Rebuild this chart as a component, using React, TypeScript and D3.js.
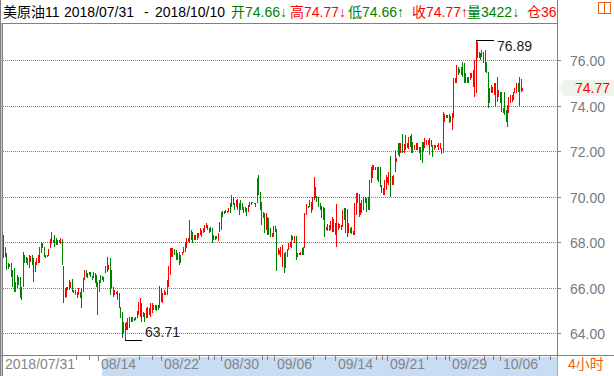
import React from 'react';
import * as d3 from 'd3';

// ---- data (4-hour bars, 美原油11) ----
const opens = [
68.31,67.78,67.52,67.08,66.90,67.08,66.77,66.86,65.80,65.98,
66.46,66.46,65.45,66.02,67.43,67.34,66.99,66.86,67.12,67.43,
67.30,66.68,66.99,67.08,67.08,67.52,67.96,67.78,67.43,67.43,
67.38,67.74,67.91,67.96,68.31,68.18,67.87,67.96,67.91,68.13,
66.95,65.54,65.58,65.89,66.33,65.98,66.37,65.89,65.89,65.80,
65.67,65.80,65.10,65.80,66.33,66.77,66.42,66.68,66.68,66.51,
66.42,66.20,66.55,66.24,65.80,66.55,66.51,66.46,66.64,66.68,
66.77,67.30,66.77,66.02,65.67,65.71,65.85,65.76,65.14,64.92,
64.48,63.71,64.13,64.13,64.22,64.48,64.70,64.66,64.57,64.66,
64.79,64.70,65.32,64.92,64.88,64.66,64.66,64.79,64.70,64.88,
65.23,65.23,65.23,65.23,65.10,65.98,65.32,65.67,65.67,65.67,
66.02,66.55,67.34,67.34,67.69,67.65,67.21,67.56,67.43,67.43,
67.52,67.56,67.74,68.00,67.96,68.09,68.44,68.09,68.09,68.40,
68.18,68.31,68.53,68.40,68.44,68.62,68.75,68.40,68.66,68.62,
68.09,68.26,68.26,68.04,68.44,68.53,69.36,69.36,69.27,69.27,
69.32,69.71,69.54,69.63,69.71,69.54,69.89,69.71,69.85,69.71,
69.54,69.54,69.49,69.32,69.54,69.63,69.76,69.71,69.71,69.71,
70.95,70.20,69.76,69.05,69.27,68.53,69.10,69.05,68.62,68.22,
68.22,68.44,68.57,67.43,67.47,67.34,66.90,67.52,66.86,67.34,
67.65,67.78,67.74,68.26,67.96,68.26,67.52,67.43,67.43,67.74,
67.78,67.74,69.19,69.58,69.54,69.76,69.41,69.85,70.42,70.02,
69.98,69.71,69.05,69.54,69.49,68.53,68.79,68.48,68.53,68.44,
68.44,68.84,67.78,68.53,68.79,68.75,68.66,69.49,69.49,69.45,
68.40,68.62,68.66,68.31,68.31,69.19,69.71,70.11,69.19,69.27,
69.41,69.71,69.93,69.98,69.41,70.59,70.81,71.16,71.30,71.30,
71.30,71.30,70.51,70.37,70.07,70.29,70.59,70.51,71.78,70.51,
70.95,71.08,71.52,72.35,71.74,71.91,72.75,71.91,72.70,72.13,
72.09,72.66,72.75,72.40,72.04,72.04,72.35,72.18,72.18,72.40,
72.00,72.13,72.26,72.26,72.57,72.48,72.26,72.04,72.13,72.18,
72.04,72.09,71.87,71.91,73.27,73.58,73.45,73.63,73.54,72.92,
73.45,74.99,74.99,75.69,75.43,75.34,75.91,75.87,75.43,74.99,
75.25,75.12,75.21,75.56,74.37,74.55,76.79,76.09,76.31,76.13,
76.35,76.44,75.91,75.47,74.11,74.55,74.55,74.46,74.99,74.15,
74.37,74.59,74.59,73.67,74.59,73.80,73.05,73.67,74.11,74.15,
74.24,74.55,74.55,74.99,73.98,75.17,74.66,
];
const highs = [
68.31,67.78,67.52,67.08,67.03,67.08,66.77,66.86,66.24,66.55,
66.46,66.46,66.02,67.56,67.43,67.34,67.30,67.43,67.38,67.43,
67.30,67.12,67.30,67.43,67.78,68.00,67.96,67.78,67.43,67.43,
67.69,68.13,68.44,68.09,68.31,68.18,68.09,68.09,68.18,68.13,
66.95,65.98,66.02,66.02,66.33,66.24,66.37,65.89,65.89,65.80,
65.98,65.80,65.98,66.42,66.77,66.77,66.64,66.68,66.68,66.51,
66.68,66.64,66.55,66.24,66.33,66.55,66.51,66.46,66.95,67.34,
66.99,67.30,66.77,66.02,65.89,65.80,65.85,65.76,65.14,64.92,
64.48,64.44,64.48,64.66,64.70,64.70,64.70,64.66,64.70,64.97,
65.36,65.54,65.32,64.92,64.88,65.10,65.14,65.10,65.32,65.32,
65.23,65.23,65.23,65.23,66.07,65.98,65.76,65.89,65.80,66.33,
66.95,67.74,67.74,67.74,67.69,67.65,67.52,67.56,67.43,67.56,
67.78,68.00,68.18,68.18,68.97,68.53,68.44,68.31,68.31,68.40,
68.40,68.62,68.53,68.62,68.75,68.84,68.75,68.62,68.66,68.62,
68.31,68.26,68.26,68.40,68.88,69.32,69.36,69.36,69.41,69.36,
69.49,69.71,70.07,69.98,69.71,69.85,69.89,69.71,69.85,69.71,
69.54,69.54,69.49,69.63,69.76,69.76,69.76,69.71,69.71,70.81,
70.95,70.20,69.76,69.32,69.27,69.27,69.10,69.05,68.62,68.40,
68.70,68.70,68.57,67.74,67.65,67.78,67.87,67.52,67.56,67.69,
67.96,68.00,68.31,68.26,68.26,68.26,67.52,67.52,67.56,67.74,
67.78,69.27,69.67,69.58,69.85,69.76,69.98,70.86,70.42,70.02,
69.98,69.71,69.58,69.54,69.49,68.66,68.79,68.75,68.92,69.10,
69.01,68.84,69.67,68.84,68.79,68.75,69.41,69.49,69.49,69.45,
68.84,68.62,68.66,68.48,69.71,70.15,70.15,70.11,69.71,69.85,
69.98,69.98,69.93,69.98,70.73,71.30,71.38,71.38,71.30,71.30,
71.30,71.30,70.51,70.37,70.73,70.95,70.86,71.08,71.78,70.90,
70.95,72.04,71.69,72.35,72.35,72.35,72.75,72.31,72.70,72.35,
72.62,72.66,72.75,72.40,72.26,72.35,72.35,72.18,72.18,72.40,
72.40,72.57,72.48,72.48,72.57,72.48,72.26,72.26,72.26,72.26,
72.35,72.35,72.13,73.71,73.63,73.58,73.58,73.63,73.54,73.67,
75.21,75.21,75.78,75.69,75.60,75.69,75.91,75.87,75.43,75.25,
75.25,75.43,75.43,75.56,76.00,76.89,76.79,76.35,76.31,76.44,
76.35,76.44,75.91,75.47,74.77,74.90,74.81,74.99,74.99,75.25,
74.68,74.59,74.59,73.89,74.59,73.80,74.02,74.37,74.46,74.46,
74.59,74.77,74.99,74.99,75.25,75.17,74.77,
];
const lows = [
67.30,67.34,66.77,66.81,66.90,66.46,66.02,65.80,65.80,65.98,
66.11,65.54,65.45,66.02,67.08,67.08,66.99,66.86,67.12,66.99,
66.24,66.68,66.99,67.08,67.08,67.52,67.74,67.34,67.30,67.34,
67.38,67.74,67.91,67.96,67.78,67.87,67.87,67.96,67.91,66.99,
65.32,65.54,65.58,65.89,65.89,65.98,65.80,65.76,65.67,65.54,
65.67,65.54,65.10,65.80,66.33,66.46,66.42,66.55,66.46,66.33,
66.42,66.20,66.02,64.79,65.80,66.20,66.33,66.24,66.64,66.68,
66.77,65.67,65.98,65.58,65.67,65.71,65.45,65.10,64.66,63.80,
64.00,63.71,64.13,64.13,64.22,64.48,64.48,64.53,64.57,64.66,
64.79,64.70,64.48,64.70,64.48,64.66,64.66,64.79,64.70,64.88,
65.01,65.01,64.97,65.01,65.10,65.36,65.32,65.67,65.67,65.67,
66.02,66.55,67.34,67.34,67.43,67.21,67.21,66.99,67.08,67.43,
67.52,67.56,67.74,68.00,67.96,68.09,67.96,68.09,68.09,68.09,
68.18,68.31,68.22,68.40,68.44,68.62,68.53,68.40,68.44,67.96,
68.09,68.09,68.13,68.04,68.44,68.53,69.10,69.23,69.27,69.27,
69.32,69.27,69.54,69.63,69.41,69.54,69.41,69.19,69.41,69.41,
69.27,69.32,69.14,69.32,69.54,69.63,69.71,69.67,69.54,69.71,
70.07,69.41,68.75,69.05,68.40,68.53,68.31,68.31,68.22,68.22,
68.22,68.44,66.73,67.43,67.47,67.34,66.90,66.64,66.86,67.34,
67.65,67.78,67.74,68.09,67.96,67.21,67.34,67.43,67.43,67.43,
67.43,67.74,69.19,69.49,69.54,69.27,69.41,69.85,69.93,69.76,
69.54,69.41,69.05,68.97,68.22,68.53,68.48,68.48,68.53,68.44,
68.44,68.31,67.78,68.53,68.62,68.53,68.66,68.97,68.40,68.22,
68.40,68.40,68.35,68.31,68.31,69.19,69.71,69.10,69.19,69.27,
69.41,69.71,69.32,69.41,69.41,70.59,70.81,71.16,71.16,70.73,
70.64,70.42,70.15,70.07,70.07,70.29,70.59,70.51,69.98,70.51,
70.51,71.08,71.52,71.82,71.74,71.91,71.91,71.91,72.04,72.13,
72.09,72.18,71.91,71.91,72.04,72.04,72.04,71.91,71.60,71.47,
72.00,72.13,72.26,72.26,71.82,72.18,71.74,72.04,72.13,72.18,
72.04,72.09,71.87,71.91,73.27,73.45,73.45,73.23,73.27,72.92,
73.45,74.99,74.99,75.34,75.43,75.34,75.25,74.99,74.99,74.99,
74.99,75.12,75.21,74.81,74.37,74.55,76.09,76.09,76.00,76.13,
75.87,75.47,75.43,73.89,74.11,74.55,74.55,74.46,73.93,74.15,
74.37,74.11,73.71,73.67,73.58,73.27,73.05,73.67,74.11,74.15,
74.24,74.55,74.55,74.59,73.98,74.59,74.66,
];
const closes = [
67.30,67.34,66.77,66.81,67.03,66.46,66.02,65.80,66.24,66.55,
66.11,65.54,66.02,67.56,67.08,67.08,67.30,67.43,67.38,66.99,
66.24,67.12,67.30,67.43,67.78,68.00,67.74,67.34,67.30,67.34,
67.69,68.13,68.44,68.09,67.78,67.87,68.09,68.09,68.18,66.99,
65.32,65.98,66.02,66.02,65.89,66.24,65.80,65.76,65.67,65.54,
65.98,65.54,65.98,66.42,66.77,66.46,66.64,66.55,66.46,66.33,
66.68,66.64,66.02,64.79,66.33,66.20,66.33,66.24,66.95,67.34,
66.99,65.67,65.98,65.58,65.89,65.80,65.45,65.10,64.66,63.80,
64.00,64.44,64.48,64.66,64.70,64.70,64.48,64.53,64.70,64.97,
65.36,65.54,64.48,64.70,64.48,65.10,65.14,65.10,65.32,65.32,
65.01,65.01,64.97,65.01,66.07,65.36,65.76,65.89,65.80,66.33,
66.95,67.74,67.74,67.74,67.43,67.21,67.52,66.99,67.08,67.56,
67.78,68.00,68.18,68.18,68.97,68.53,67.96,68.31,68.31,68.09,
68.40,68.62,68.22,68.62,68.75,68.84,68.53,68.62,68.44,67.96,
68.31,68.09,68.13,68.40,68.88,69.32,69.10,69.23,69.41,69.36,
69.49,69.27,70.07,69.98,69.41,69.85,69.41,69.19,69.41,69.41,
69.27,69.32,69.14,69.63,69.76,69.76,69.71,69.67,69.54,70.81,
70.07,69.41,68.75,69.32,68.40,69.27,68.31,68.31,68.22,68.40,
68.70,68.70,66.73,67.74,67.65,67.78,67.87,66.64,67.56,67.69,
67.96,68.00,68.31,68.09,68.26,67.21,67.34,67.52,67.56,67.43,
67.43,69.27,69.67,69.49,69.85,69.27,69.98,70.86,69.93,69.76,
69.54,69.41,69.58,68.97,68.22,68.66,68.48,68.75,68.92,69.10,
69.01,68.31,69.67,68.84,68.62,68.53,69.41,68.97,68.40,68.22,
68.84,68.40,68.35,68.48,69.71,70.15,70.15,69.10,69.71,69.85,
69.98,69.98,69.32,69.41,70.73,71.30,71.38,71.38,71.16,70.73,
70.64,70.42,70.15,70.07,70.73,70.95,70.86,71.08,69.98,70.90,
70.51,72.04,71.69,71.82,72.35,72.35,71.91,72.31,72.04,72.35,
72.62,72.18,71.91,71.91,72.26,72.35,72.04,71.91,71.60,71.47,
72.40,72.57,72.48,72.48,71.82,72.18,71.74,72.26,72.26,72.26,
72.35,72.35,72.13,73.71,73.63,73.45,73.58,73.23,73.27,73.67,
75.21,75.21,75.78,75.34,75.60,75.69,75.25,74.99,74.99,75.25,
74.99,75.43,75.43,74.81,76.00,76.89,76.09,76.35,76.00,76.44,
75.87,75.47,75.43,73.89,74.77,74.90,74.81,74.99,73.93,75.25,
74.68,74.11,73.71,73.89,73.58,73.27,74.02,74.37,74.46,74.46,
74.59,74.77,74.99,74.59,75.25,74.59,74.77,
];
const lastVolume = 3422;
const lastOpenInterest = 36;
const yTicks = [64, 66, 68, 70, 72, 74, 76];
const dateLabels = ['2018/07/31', '08/14', '08/22', '08/30', '09/06', '09/14', '09/21', '09/29', '10/06'];
const dateLabelBars = [0, 64, 106, 146, 181, 222, 257, 298, 332];
const minorTickBars = [49, 58, 91, 100, 131, 137, 141, 173, 177, 207, 215, 249, 253, 283, 289, 295, 321, 327, 358, 365];
const titleName = '美原油11';
const rangeStart = '2018/07/31';
const rangeEnd = '2018/10/10';
const periodLabel = '4小时';

const W = 614;
const H = 376;
const RED = '#ff0000';
const GREEN = '#008000';
const GRAY = '#808080';
const FONT = '"Liberation Sans", Arial, "Noto Sans CJK SC", sans-serif';
const AXIS_X = 557.5;
const BOTTOM_Y = 355.5;
const HEADER_Y = 23.5;

export default function App() {
  const n = opens.length;
  const x = d3.scaleLinear().domain([0, n - 1]).range([3, 522]);
  const y = d3.scaleLinear().domain([64, 76]).range([333.3, 60]);
  const f2 = d3.format('.2f');
  const px = (i: number) => Math.round(x(i));
  const py = (v: number) => Math.round(y(v));

  const hiIdx = d3.maxIndex(highs);
  const loIdx = d3.minIndex(lows);
  const last = n - 1;
  const lastY = y(closes[last]);

  const headerGroups = [
    { label: '开', value: f2(opens[last]), arrow: '↓', color: GREEN, x0: 231 },
    { label: '高', value: f2(highs[last]), arrow: '↓', color: RED, x0: 290 },
    { label: '低', value: f2(lows[last]), arrow: '↑', color: GREEN, x0: 348 },
    { label: '收', value: f2(closes[last]), arrow: '↑', color: RED, x0: 412 },
    { label: '量', value: String(lastVolume), arrow: '↓', color: GREEN, x0: 467 },
    { label: '仓', value: String(lastOpenInterest), arrow: '', color: RED, x0: 527 },
  ];

  return (
    <svg width={W} height={H} style={{ position: 'fixed', left: 0, top: 0, background: '#fff' }} fontFamily={FONT}>
      <rect x={0} y={0} width={W} height={H} fill="#fff" />
      {/* header */}
      <g fontSize={14}>
        <text x={3} y={16.5} fill="#000">{titleName}</text>
        <text x={64} y={16.5} fill="#000">{rangeStart}</text>
        <text x={144} y={16.5} fill="#000">-</text>
        <text x={155} y={16.5} fill="#000">{rangeEnd}</text>
        {headerGroups.map((g) => (
          <text key={g.label} x={g.x0} y={16.5} fill={g.color}>
            {g.label}{g.value}{g.arrow}
          </text>
        ))}
      </g>
      <rect x={598.5} y={2.5} width={12} height={11} fill="none" stroke="#e8600c" strokeWidth={1} />
      <line x1={604.5} x2={604.5} y1={2.5} y2={13.5} stroke="#e8600c" />
      <line x1={0} x2={AXIS_X} y1={HEADER_Y} y2={HEADER_Y} stroke={GRAY} />

      {/* borders */}
      <line x1={0.5} x2={0.5} y1={0} y2={H} stroke={GRAY} />
      <line x1={1.5} x2={1.5} y1={HEADER_Y} y2={H} stroke="#c8c8c8" />
      <line x1={2.5} x2={2.5} y1={HEADER_Y} y2={H} stroke={GRAY} />

      {/* grid */}
      {yTicks.map((t) => (
        <g key={t}>
          <line x1={3} x2={AXIS_X} y1={py(t) + 0.5} y2={py(t) + 0.5} stroke={GRAY} strokeDasharray="1 1" />
          <line x1={AXIS_X} x2={561} y1={py(t) + 0.5} y2={py(t) + 0.5} stroke={GRAY} />
          <text x={570} y={py(t) + 5.5} fontSize={14} fill="#7a7a7a">{f2(t)}</text>
        </g>
      ))}

      {/* candles */}
      <g shapeRendering="crispEdges">
        {opens.map((o, i) => {
          const c = closes[i];
          const col = c >= o ? RED : GREEN;
          const yh = py(highs[i]);
          const yl = py(lows[i]);
          const yb0 = py(Math.max(o, c));
          const yb1 = py(Math.min(o, c));
          return (
            <g key={i} fill={col}>
              <rect x={px(i)} y={yh} width={1} height={Math.max(1, yl - yh)} />
              <rect x={px(i)} y={yb0} width={1} height={Math.max(1, yb1 - yb0)} />
            </g>
          );
        })}
      </g>

      {/* high / low markers */}
      <g>
        <line x1={px(hiIdx)} x2={px(hiIdx) + 18} y1={py(highs[hiIdx]) + 0.5} y2={py(highs[hiIdx]) + 0.5} stroke="#000" />
        <text x={px(hiIdx) + 21} y={py(highs[hiIdx]) + 11} fontSize={14} fill="#222">{f2(highs[hiIdx])}</text>
        <line x1={px(loIdx)} x2={px(loIdx) + 17} y1={py(lows[loIdx]) + 0.5} y2={py(lows[loIdx]) + 0.5} stroke="#000" />
        <text x={px(loIdx) + 20} y={py(lows[loIdx]) - 3} fontSize={14} fill="#222">{f2(lows[loIdx])}</text>
      </g>

      {/* right axis */}
      <line x1={AXIS_X} x2={AXIS_X} y1={0} y2={H} stroke={GRAY} />
      <path
        d={`M558,${lastY} L564,${lastY - 8} L614,${lastY - 8} L614,${lastY + 8} L564,${lastY + 8} Z`}
        fill="#edf5ea"
      />
      <text x={575} y={lastY + 5} fontSize={14} fill={RED}>{f2(closes[last])}</text>

      {/* bottom axis */}
      <path d={`M${AXIS_X},357 L111,357 Q102,357 102,366 L102,${H} L${AXIS_X},${H} Z`} fill="#c8dcf4" />
      <line x1={0} x2={W} y1={BOTTOM_Y} y2={BOTTOM_Y} stroke={GRAY} />
      {minorTickBars.map((b) => (
        <line key={'m' + b} x1={px(b) - 0.5} x2={px(b) - 0.5} y1={356} y2={360} stroke={GRAY} />
      ))}
      {dateLabels.map((d, k) => (
        <g key={d}>
          {k > 0 && (
            <line x1={px(dateLabelBars[k]) - 0.5} x2={px(dateLabelBars[k]) - 0.5} y1={356} y2={361} stroke={GRAY} />
          )}
          <text x={px(dateLabelBars[k]) + 2} y={369} fontSize={14} fill="#858585">{d}</text>
        </g>
      ))}
      <text x={568} y={369} fontSize={14} fill="#f25c05">{periodLabel}</text>
    </svg>
  );
}
